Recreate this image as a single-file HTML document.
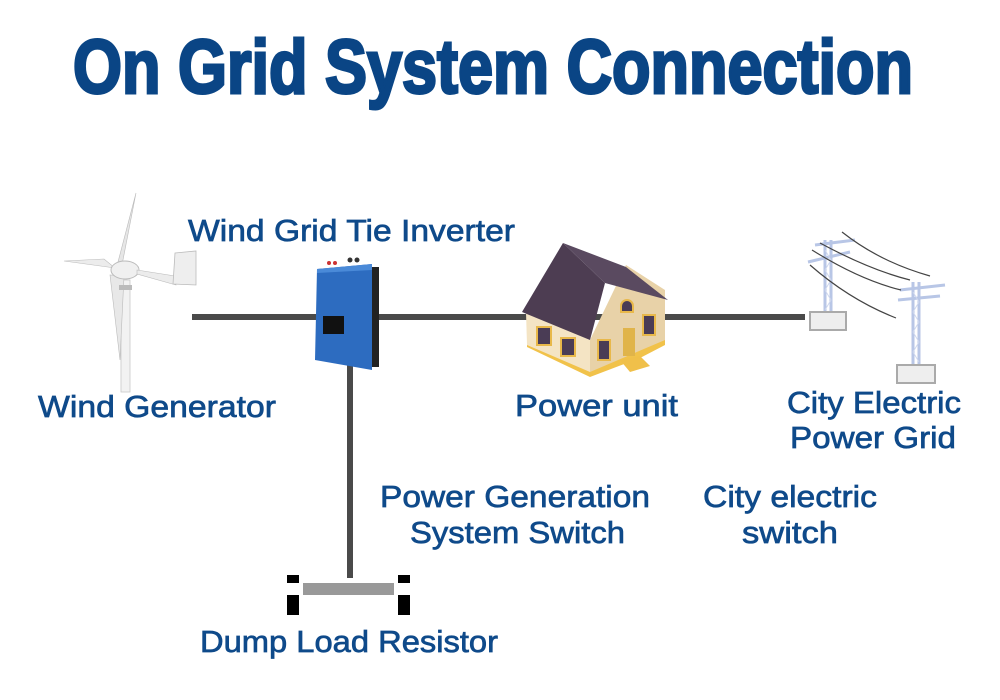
<!DOCTYPE html>
<html><head><meta charset="utf-8"><style>
html,body{margin:0;padding:0;background:#fff;width:1000px;height:700px;overflow:hidden}
svg{display:block}
text{font-family:"Liberation Sans",sans-serif;fill:#0f4a8a}
.l{stroke:#0f4a8a;stroke-width:0.7}
</style></head><body>
<svg width="1000" height="700" viewBox="0 0 1000 700" xmlns="http://www.w3.org/2000/svg">
<rect width="1000" height="700" fill="#fff"/>
<!-- title -->
<text x="73" y="93" font-size="76" font-weight="bold" textLength="840" lengthAdjust="spacingAndGlyphs" style="fill:#0a4585;stroke:#0a4585;stroke-width:3">On Grid System Connection</text>

<!-- lines -->
<rect x="192" y="314" width="613" height="6" fill="#4a4a4a"/>
<rect x="347" y="360" width="6" height="218" fill="#4a4a4a"/>

<!-- resistor -->
<rect x="287" y="575" width="12" height="40" fill="#000"/>
<rect x="398" y="575" width="12" height="40" fill="#000"/>
<rect x="287" y="583" width="123" height="12" fill="#fff"/>
<rect x="303" y="583" width="91" height="12" fill="#999"/>

<!-- wind turbine -->
<rect x="121" y="280" width="9" height="112" fill="#f2f2f2" stroke="#c8c8c8" stroke-width="0.8"/>
<path d="M118 262 L136 193 L122 265 Z" fill="#e6e6e6" stroke="#bbb" stroke-width="0.6"/>
<path d="M115 268 L64 261 L104 259 Z" fill="#ececec" stroke="#bbb" stroke-width="0.6"/>
<path d="M110 275 L120 360 L124 276 Z" fill="#e8e8e8" stroke="#bbb" stroke-width="0.6"/>
<ellipse cx="125" cy="270" rx="14" ry="9" fill="#f0f0f0" stroke="#bbb"/>
<path d="M137 270 L175 276 L176 285 L137 274Z" fill="#ececec" stroke="#bbb" stroke-width="0.6"/>
<path d="M175 253 L196 251 L196 285 L173 284 Z" fill="#eee" stroke="#bbb" stroke-width="0.8"/>
<rect x="119" y="285" width="13" height="5" fill="#bbb"/>

<!-- inverter -->
<rect x="369" y="267" width="10" height="100" fill="#222"/>
<path d="M317 269 L372 264 L372 370 L315 360 Z" fill="#2d6cc0"/>
<path d="M317 269 L372 264 L372 270 L317 273 Z" fill="#4a8ad8"/>
<rect x="323" y="316" width="21" height="18" fill="#111"/>
<circle cx="329" cy="263" r="2" fill="#c33"/><circle cx="335" cy="263" r="2" fill="#c33"/><circle cx="350" cy="260" r="2.5" fill="#333"/><circle cx="357" cy="260" r="2.5" fill="#333"/>

<!-- house -->
<path d="M527 347 L590 377 L640 358 L665 345 L665 330 L590 365 L527 338Z" fill="#f1c24a"/>
<path d="M526 312 L527 345 L590 372 L590 340 Z" fill="#f4e4c4"/>
<path d="M590 340 L590 372 L665 340 L665 290 L626 265 Z" fill="#e8d2a8"/>
<path d="M522 312 L563 243 L605 283 L590 340 Z" fill="#4d3d52"/>
<path d="M563 243 L605 283 L668 300 L626 267 Z" fill="#5a4a60"/>
<rect x="537" y="327" width="14" height="18" fill="#4a3c55" stroke="#e8b84a" stroke-width="2"/>
<rect x="561" y="338" width="14" height="18" fill="#4a3c55" stroke="#e8b84a" stroke-width="2"/>
<rect x="598" y="340" width="12" height="20" fill="#4a3c55" stroke="#e8b84a" stroke-width="2"/>
<rect x="623" y="328" width="12" height="28" fill="#e0b44a"/>
<rect x="643" y="315" width="12" height="20" fill="#4a3c55" stroke="#e8b84a" stroke-width="2"/>
<path d="M621 306 a6 6 0 0 1 12 0 v6 h-12z" fill="#4a3c55" stroke="#e8b84a" stroke-width="2"/>
<path d="M620 360 L640 356 L650 366 L630 372Z" fill="#f0c04a"/>

<!-- towers -->
<g fill="none" stroke="#b8c6e6" stroke-width="3">
<path d="M825 240 L825 318 M831 240 L831 318"/>
<path d="M913 282 L913 370 M919 282 L919 370"/>
<path d="M808 262 L850 252 M815 245 L855 240 M900 290 L945 285 M898 300 L940 296"/>
</g>
<g fill="none" stroke="#d0d8ee" stroke-width="1">
<path d="M825 250 L831 260 L825 270 L831 280 L825 290 L831 300 L825 310"/>
<path d="M913 292 L919 302 L913 312 L919 322 L913 332 L919 342 L913 352 L919 362"/>
</g>
<g fill="#eee" stroke="#aaa" stroke-width="2">
<rect x="810" y="312" width="36" height="18"/>
<rect x="897" y="365" width="38" height="18"/>
</g>
<g fill="none" stroke="#444" stroke-width="1.2">
<path d="M812 250 Q860 280 901 290"/>
<path d="M820 243 Q870 270 910 280"/>
<path d="M842 232 Q880 262 930 276"/>
<path d="M810 265 Q850 300 896 318"/>
</g>

<!-- labels -->
<text class="l" x="188" y="241" font-size="31" textLength="327" lengthAdjust="spacingAndGlyphs">Wind Grid Tie Inverter</text>
<text class="l" x="38" y="417" font-size="31" textLength="238" lengthAdjust="spacingAndGlyphs">Wind Generator</text>
<text class="l" x="515" y="416" font-size="31" textLength="163" lengthAdjust="spacingAndGlyphs">Power unit</text>
<text class="l" x="787" y="413" font-size="31" textLength="174" lengthAdjust="spacingAndGlyphs">City Electric</text>
<text class="l" x="790" y="448" font-size="31" textLength="166" lengthAdjust="spacingAndGlyphs">Power Grid</text>
<text class="l" x="380" y="507" font-size="31" textLength="270" lengthAdjust="spacingAndGlyphs">Power Generation</text>
<text class="l" x="410" y="543" font-size="31" textLength="215" lengthAdjust="spacingAndGlyphs">System Switch</text>
<text class="l" x="703" y="507" font-size="31" textLength="174" lengthAdjust="spacingAndGlyphs">City electric</text>
<text class="l" x="742" y="543" font-size="31" textLength="96" lengthAdjust="spacingAndGlyphs">switch</text>
<text class="l" x="200" y="652" font-size="31" textLength="298" lengthAdjust="spacingAndGlyphs">Dump Load Resistor</text>
</svg>
</body></html>
